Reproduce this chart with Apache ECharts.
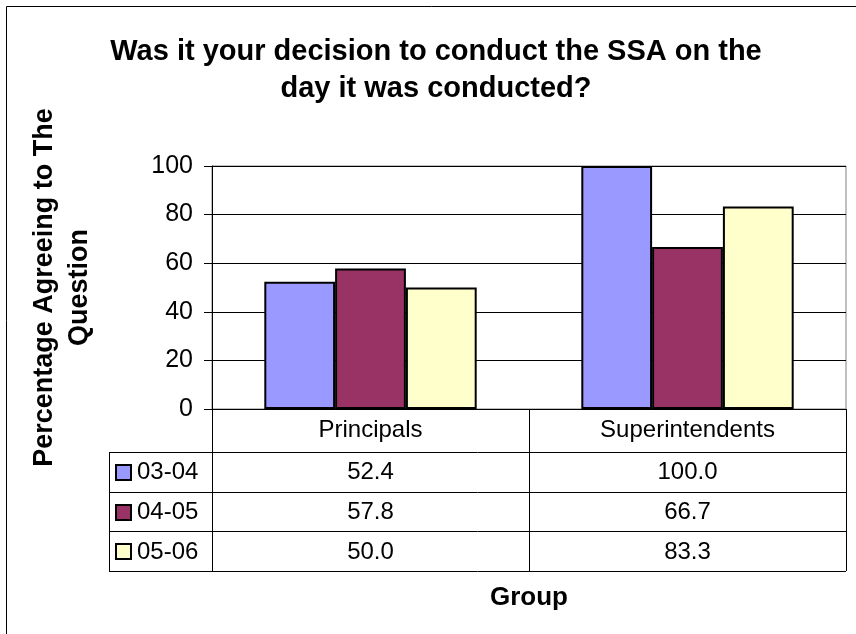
<!DOCTYPE html>
<html>
<head>
<meta charset="utf-8">
<script src="https://cdn.jsdelivr.net/npm/echarts@6/dist/echarts.min.js"></script>
<style>
  html, body { margin: 0; padding: 0; background: #fff; }
  #chart { width: 856px; height: 634px; }
</style>
</head>
<body>
<div id="chart"></div>
<script>
var groups = ['Principals', 'Superintendents']
var years = ['03-04', '04-05', '05-06']
var values0304 = [52.4, 100.0]
var values0405 = [57.8, 66.7]
var values0506 = [50.0, 83.3]
var yTicks = [0, 20, 40, 60, 80, 100]

var colors = ['#9999FF', '#993366', '#FFFFCC']
var seriesValues = [values0304, values0405, values0506]
var font = "'Liberation Sans', Arial, sans-serif"

var chart = echarts.init(document.getElementById('chart'))

var series = years.map(function (name, i) {
  return {
    name: name,
    type: 'bar',
    data: seriesValues[i],
    barGap: 0,
    barCategoryGap: '33%',
    itemStyle: { color: colors[i], borderColor: '#000', borderWidth: 2 }
  }
})

chart.setOption({
  animation: false,
  title: {
    text: 'Was it your decision to conduct the SSA on the\nday it was conducted?',
    left: 431,
    textAlign: 'center',
    top: 28,
    textStyle: { fontFamily: font, fontSize: 29, fontWeight: 'bold', color: '#000', lineHeight: 37 }
  },
  grid: {
    left: 212,
    right: 10,
    top: 166,
    bottom: 225,
    show: true,
    borderColor: '#808080',
    borderWidth: 1
  },
  xAxis: {
    type: 'category',
    data: groups,
    name: 'Group',
    nameLocation: 'middle',
    nameGap: 176,
    nameTextStyle: { fontFamily: font, fontSize: 26, fontWeight: 'bold', color: '#000' },
    axisLine: { lineStyle: { color: '#000', width: 1 } },
    axisTick: { show: true, length: 162, lineStyle: { color: '#000', width: 1 } },
    axisLabel: { fontFamily: font, fontSize: 24, color: '#000', margin: 9 }
  },
  yAxis: {
    type: 'value',
    min: yTicks[0],
    max: yTicks[yTicks.length - 1],
    interval: yTicks[1] - yTicks[0],
    name: 'Percentage Agreeing to The\nQuestion',
    nameLocation: 'middle',
    nameGap: 115,
    nameTextStyle: { fontFamily: font, fontSize: 27, fontWeight: 'bold', color: '#000', lineHeight: 35 },
    axisLine: { show: true, lineStyle: { color: '#000', width: 1 } },
    axisTick: { show: true, length: 8, lineStyle: { color: '#000' } },
    axisLabel: { fontFamily: font, fontSize: 25, color: '#000', margin: 19 },
    splitLine: { lineStyle: { color: '#000', width: 1 } }
  },
  series: series
})

// data table under the plot, built from the same arrays
var y0 = chart.convertToPixel({ yAxisIndex: 0 }, 0)
var c0 = chart.convertToPixel({ xAxisIndex: 0 }, groups[0])
var c1 = chart.convertToPixel({ xAxisIndex: 0 }, groups[1])
var band = c1 - c0
var tableLeft = 109
var tableRight = c1 + band / 2
var headerBottom = y0 + 43
var rowH = 39.7

var elements = []
elements.push({
  type: 'rect',
  shape: { x: 6.5, y: 6.5, width: 900, height: 700 },
  style: { fill: null, stroke: '#000', lineWidth: 1 },
  silent: true
})
for (var r = 0; r <= years.length; r++) {
  var yy = Math.round(headerBottom + r * rowH) + 0.5
  elements.push({
    type: 'line',
    shape: { x1: tableLeft, y1: yy, x2: tableRight, y2: yy },
    style: { stroke: '#000', lineWidth: 1 }
  })
}
elements.push({
  type: 'line',
  shape: { x1: tableLeft + 0.5, y1: headerBottom, x2: tableLeft + 0.5, y2: headerBottom + years.length * rowH },
  style: { stroke: '#000', lineWidth: 1 }
})
years.forEach(function (name, i) {
  var cy = headerBottom + (i + 0.5) * rowH
  elements.push({
    type: 'rect',
    shape: { x: 116, y: Math.round(cy) - 7, width: 15, height: 15 },
    style: { fill: colors[i], stroke: '#000', lineWidth: 2 }
  })
  elements.push({
    type: 'text',
    x: 137,
    y: cy + 1,
    style: { text: name, font: '24px ' + font, fill: '#000', verticalAlign: 'middle', align: 'left' }
  })
  groups.forEach(function (g, j) {
    var cx = chart.convertToPixel({ xAxisIndex: 0 }, g)
    elements.push({
      type: 'text',
      x: cx,
      y: cy + 1,
      style: { text: seriesValues[i][j].toFixed(1), font: '24px ' + font, fill: '#000', verticalAlign: 'middle', align: 'center' }
    })
  })
})

chart.setOption({ graphic: { elements: elements } })
</script>
</body>
</html>
